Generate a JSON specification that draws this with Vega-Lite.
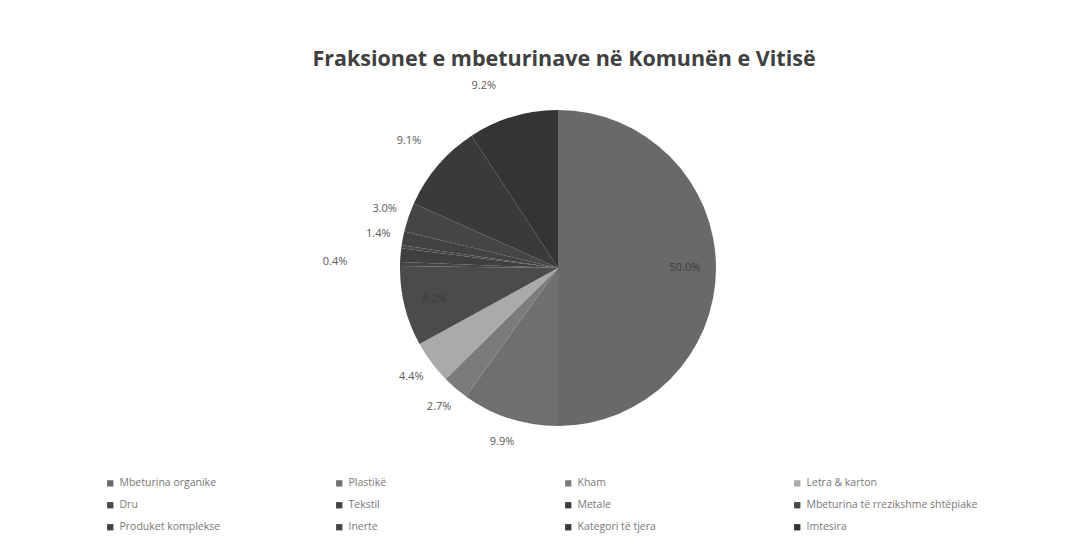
{
  "$schema": "https://vega.github.io/schema/vega-lite/v6.json",
  "width": 1050,
  "height": 376,
  "autosize": {"type": "none"},
  "padding": {"left": 33, "top": 80, "right": 0, "bottom": 98},
  "background": "white",
  "title": {
    "text": "Fraksionet e mbeturinave në Komunën e Vitisë",
    "font": "Open Sans",
    "fontSize": 21.5,
    "fontWeight": "bold",
    "color": "#404040",
    "anchor": "middle",
    "dx": 6,
    "dy": 32,
    "offset": 10
  },
  "data": {
    "values": [
      {"nr": 1, "kategoria": "Mbeturina organike", "pjesa": 0.500},
      {"nr": 2, "kategoria": "Plastikë", "pjesa": 0.099},
      {"nr": 3, "kategoria": "Kham", "pjesa": 0.027},
      {"nr": 4, "kategoria": "Letra & karton", "pjesa": 0.044},
      {"nr": 5, "kategoria": "Dru", "pjesa": 0.082},
      {"nr": 6, "kategoria": "Tekstil", "pjesa": 0.004},
      {"nr": 7, "kategoria": "Metale", "pjesa": 0.014},
      {"nr": 8, "kategoria": "Mbeturina të rrezikshme shtëpiake", "pjesa": 0.003},
      {"nr": 9, "kategoria": "Produket komplekse", "pjesa": 0.014},
      {"nr": 10, "kategoria": "Inerte", "pjesa": 0.030},
      {"nr": 11, "kategoria": "Kategori të tjera", "pjesa": 0.091},
      {"nr": 12, "kategoria": "Imtesira", "pjesa": 0.092}
    ]
  },
  "encoding": {
    "theta": {"field": "pjesa", "type": "quantitative", "stack": true},
    "order": {"field": "nr", "type": "quantitative"}
  },
  "layer": [
    {
      "mark": {"type": "arc", "outerRadius": 158, "stroke": null},
      "encoding": {
        "color": {
          "field": "kategoria",
          "type": "nominal",
          "sort": null,
          "scale": {
            "range": ["#696969", "#6f6f6f", "#7b7b7b", "#aaaaaa", "#4b4b4b", "#444444", "#3f3f3f", "#474747", "#424242", "#454545", "#3a3a3a", "#343434"]
          },
          "legend": {
            "orient": "none",
            "legendX": 72,
            "legendY": 398,
            "direction": "horizontal",
            "columns": 4,
            "title": null,
            "symbolType": "square",
            "symbolSize": 40,
            "symbolStrokeWidth": 0,
            "labelFont": "Open Sans",
            "labelFontSize": 10.5,
            "labelColor": "#777777",
            "labelLimit": 260,
            "gridAlign": "all",
            "columnPadding": 43,
            "rowPadding": 11
          }
        }
      }
    },
    {
      "mark": {"type": "text", "radius": 183, "font": "Open Sans", "fontSize": 11, "fill": "#595959"},
      "encoding": {
        "text": {"field": "pjesa", "type": "quantitative", "format": ".1%"},
        "opacity": {
          "condition": {"test": "indexof(['Plastikë','Kham','Letra & karton','Produket komplekse','Inerte'], datum.kategoria) >= 0", "value": 1},
          "value": 0
        }
      }
    },
    {
      "mark": {"type": "text", "radius": 196, "font": "Open Sans", "fontSize": 11, "fill": "#595959"},
      "encoding": {
        "text": {"field": "pjesa", "type": "quantitative", "format": ".1%"},
        "opacity": {
          "condition": {"test": "datum.kategoria === 'Kategori të tjera'", "value": 1},
          "value": 0
        }
      }
    },
    {
      "mark": {"type": "text", "radius": 190, "dx": -20, "font": "Open Sans", "fontSize": 11, "fill": "#595959"},
      "encoding": {
        "text": {"field": "pjesa", "type": "quantitative", "format": ".1%"},
        "opacity": {
          "condition": {"test": "datum.kategoria === 'Imtesira'", "value": 1},
          "value": 0
        }
      }
    },
    {
      "mark": {"type": "text", "radius": 223, "font": "Open Sans", "fontSize": 11, "fill": "#595959"},
      "encoding": {
        "text": {"field": "pjesa", "type": "quantitative", "format": ".1%"},
        "opacity": {
          "condition": {"test": "datum.kategoria === 'Tekstil'", "value": 1},
          "value": 0
        }
      }
    },
    {
      "mark": {"type": "text", "radius": 127, "font": "Open Sans", "fontSize": 11, "fill": "#3c3c3c"},
      "encoding": {
        "text": {"field": "pjesa", "type": "quantitative", "format": ".1%"},
        "opacity": {
          "condition": {"test": "indexof(['Mbeturina organike','Dru'], datum.kategoria) >= 0", "value": 1},
          "value": 0
        }
      }
    }
  ]
}
